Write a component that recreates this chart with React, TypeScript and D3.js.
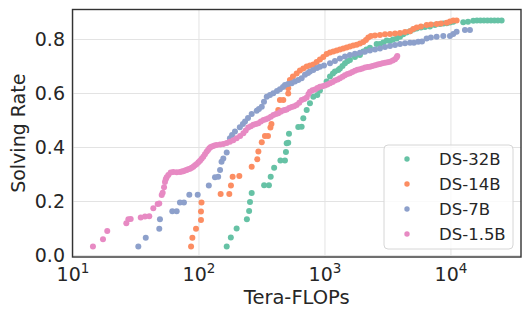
import * as d3 from 'd3';

// [Tera-FLOPs, solving rate]
const ds32b: [number, number][] = [
  [166, 0.033], [179, 0.067], [199, 0.100], [240, 0.134], [250, 0.165], [254, 0.198], [262, 0.231],
  [329, 0.260], [359, 0.260], [371, 0.292], [395, 0.325], [443, 0.352], [481, 0.352], [490, 0.383],
  [497, 0.416], [511, 0.418], [518, 0.451], [614, 0.476], [653, 0.477], [673, 0.508], [716, 0.539],
  [760, 0.564], [808, 0.588], [869, 0.594], [912, 0.611], [1031, 0.644], [1096, 0.663], [1157, 0.674],
  [1200, 0.681], [1276, 0.687], [1315, 0.693], [1377, 0.702], [1442, 0.712], [1510, 0.719], [1578, 0.724],
  [1730, 0.735], [1895, 0.743], [2015, 0.756], [2135, 0.763], [2275, 0.769], [2572, 0.783], [2733, 0.783],
  [2904, 0.789], [3088, 0.796], [3281, 0.794], [3467, 0.800], [3708, 0.804], [3940, 0.810], [4181, 0.819],
  [4446, 0.826], [4731, 0.831], [5023, 0.837], [5346, 0.841], [5780, 0.844], [6220, 0.846], [6810, 0.848],
  [7460, 0.854], [8180, 0.857], [8720, 0.859], [9250, 0.860], [9820, 0.863], [10430, 0.866], [12520, 0.864],
  [13650, 0.866], [15040, 0.869], [16070, 0.870], [17140, 0.870], [18280, 0.870], [19490, 0.870],
  [20770, 0.870], [22150, 0.870], [23610, 0.870], [25250, 0.870],
];

const ds14b: [number, number][] = [
  [86.5, 0.033], [88.6, 0.066], [94.7, 0.099], [103.7, 0.131], [103.7, 0.163], [104.7, 0.196],
  [148.6, 0.228], [174, 0.228], [179.4, 0.259], [185, 0.292], [209, 0.294], [262, 0.329], [290, 0.356],
  [296, 0.385], [315, 0.419], [334, 0.443], [353, 0.443], [369, 0.474], [376, 0.487], [426, 0.539],
  [439, 0.576], [467, 0.576], [511, 0.600], [511, 0.619], [527, 0.650], [557, 0.663], [596, 0.674],
  [633, 0.685], [673, 0.693], [716, 0.700], [760, 0.704], [808, 0.707], [859, 0.717], [912, 0.726],
  [970, 0.735], [1031, 0.746], [1096, 0.752], [1165, 0.756], [1238, 0.759], [1315, 0.763], [1397, 0.767],
  [1486, 0.770], [1578, 0.774], [1677, 0.778], [1785, 0.781], [1895, 0.785], [2015, 0.791], [2115, 0.798],
  [2207, 0.807], [2317, 0.813], [2494, 0.815], [2733, 0.817], [2995, 0.819], [3281, 0.820], [3597, 0.822],
  [3940, 0.824], [4318, 0.828], [4731, 0.831], [5023, 0.839], [5346, 0.844], [5780, 0.848], [6410, 0.854],
  [6930, 0.856], [7700, 0.857], [8340, 0.859], [9250, 0.862], [9820, 0.867], [10430, 0.870], [11090, 0.870],
];

const ds7b: [number, number][] = [
  [33.0, 0.033], [37.8, 0.066], [48.4, 0.099], [49.0, 0.134], [61.4, 0.164], [66.5, 0.164], [70.6, 0.196],
  [76.0, 0.196], [83.8, 0.225], [97.7, 0.225], [119.7, 0.259], [134, 0.290], [142, 0.292], [147, 0.317],
  [151, 0.347], [156, 0.359], [166, 0.381], [176, 0.434], [183, 0.446], [193, 0.459], [211, 0.475],
  [223, 0.487], [232, 0.496], [245, 0.509], [262, 0.524], [287, 0.536], [299, 0.543], [315, 0.551],
  [328, 0.569], [345, 0.588], [366, 0.594], [389, 0.601], [416, 0.609], [439, 0.616], [464, 0.624],
  [481, 0.631], [509, 0.635], [544, 0.638], [578, 0.644], [614, 0.650], [653, 0.656], [694, 0.669],
  [733, 0.676], [760, 0.681], [808, 0.687], [864, 0.694], [912, 0.699], [982, 0.704], [1096, 0.712],
  [1200, 0.720], [1315, 0.730], [1442, 0.737], [1578, 0.743], [1730, 0.747], [1895, 0.751], [2075, 0.755],
  [2275, 0.759], [2494, 0.763], [2733, 0.767], [2995, 0.772], [3281, 0.776], [3597, 0.780], [3940, 0.783],
  [4318, 0.786], [4731, 0.788], [5085, 0.788], [5500, 0.792], [5890, 0.793], [6410, 0.804], [6930, 0.807],
  [7700, 0.810], [8690, 0.813], [9820, 0.813], [10430, 0.820], [11090, 0.829], [12910, 0.835], [14150, 0.835],
];

const ds15b: [number, number][] = [
  [14.4, 0.033], [17.3, 0.060], [18.7, 0.091], [26.5, 0.119], [27.5, 0.134], [28.7, 0.135], [34.5, 0.141],
  [37.3, 0.144], [40.3, 0.145], [43.4, 0.175], [47.0, 0.191], [48.4, 0.193], [50.6, 0.224], [51.5, 0.232],
  [52.8, 0.253], [53.7, 0.272], [54.5, 0.282], [55.4, 0.290], [57.1, 0.298], [59.6, 0.307], [62.5, 0.309],
  [66.5, 0.308], [70.6, 0.309], [73, 0.311], [75.0, 0.312], [77.5, 0.315], [79.8, 0.317], [82, 0.319],
  [84.9, 0.321], [87.5, 0.325], [90.2, 0.329], [93, 0.334], [96.0, 0.339], [99, 0.345], [101.9, 0.351],
  [105, 0.358], [108.2, 0.366], [111.5, 0.375], [115, 0.384], [118, 0.391], [120.8, 0.397], [124, 0.402],
  [128, 0.405], [133, 0.407], [138, 0.409], [147, 0.411], [156, 0.413], [166, 0.417], [176, 0.421],
  [187, 0.427], [199, 0.434], [212, 0.443], [225, 0.453], [235, 0.463], [246, 0.474], [258, 0.479],
  [270, 0.484], [283, 0.487], [296, 0.490], [310, 0.496], [325, 0.502], [340, 0.505], [355, 0.508],
  [372, 0.514], [390, 0.520], [408, 0.524], [426, 0.527], [445, 0.532], [465, 0.537], [480, 0.539],
  [497, 0.541], [520, 0.546], [545, 0.550], [570, 0.553], [596, 0.557], [625, 0.566], [653, 0.576],
  [685, 0.580], [716, 0.585], [740, 0.598], [760, 0.606], [795, 0.612], [833, 0.615], [870, 0.620],
  [912, 0.625], [955, 0.627], [1000, 0.630], [1045, 0.633], [1096, 0.638], [1150, 0.643], [1200, 0.648],
  [1260, 0.652], [1315, 0.656], [1380, 0.662], [1440, 0.668], [1510, 0.672], [1578, 0.675], [1650, 0.680],
  [1730, 0.684], [1810, 0.688], [1895, 0.690], [1980, 0.693], [2080, 0.696], [2180, 0.698], [2275, 0.699],
  [2380, 0.702], [2500, 0.705], [2620, 0.707], [2733, 0.709], [2860, 0.712], [3000, 0.714], [3140, 0.716],
  [3281, 0.718], [3450, 0.722], [3597, 0.727], [3700, 0.733], [3750, 0.739],
];

const seriesNames = ['DS-32B', 'DS-14B', 'DS-7B', 'DS-1.5B'];
const seriesData = [ds32b, ds14b, ds7b, ds15b];
const colors = ['#66c2a5', '#fc8d62', '#8da0cb', '#e78ac3'];
const xTicks = [10, 100, 1000, 10000];
const yTicks = [0, 0.2, 0.4, 0.6, 0.8];

const W = 532;
const H = 319;
const left = 72.5;
const right = 521;
const top = 9.5;
const bottom = 257;
const font = 'DejaVu Sans, sans-serif';
const ink = '#262626';

export default function App() {
  const x = d3.scaleLog().domain([10, Math.pow(10, 4.556)]).range([73, right]);
  const y = d3.scaleLinear().domain([-0.0056, 0.9111]).range([bottom, top]);

  return (
    <svg width={W} height={H} style={{ position: 'absolute', left: 0, top: 0, background: '#fff' }}>
      <rect x={0} y={0} width={W} height={H} fill="#fff" />
      {/* grid */}
      {xTicks.map((t) => (
        <line key={'gx' + t} x1={x(t)} x2={x(t)} y1={top} y2={bottom} stroke="#e3e3e3" strokeWidth={1} />
      ))}
      {yTicks.map((t) => (
        <line key={'gy' + t} x1={left} x2={right} y1={y(t)} y2={y(t)} stroke="#e3e3e3" strokeWidth={1} />
      ))}

      {/* points */}
      {seriesData.map((data, i) => (
        <g key={seriesNames[i]} fill={colors[i]}>
          {data.map((d, j) => (
            <circle key={j} cx={x(d[0])} cy={y(d[1])} r={3} />
          ))}
        </g>
      ))}

      {/* frame */}
      <rect x={left} y={top} width={right - left} height={bottom - top} fill="none" stroke="#333" strokeWidth={1.4} />

      {/* y ticks */}
      {yTicks.map((t) => (
        <text key={'ty' + t} x={65} y={y(t)} dy="0.36em" textAnchor="end" fontFamily={font} fontSize={19} fill={ink}>
          {d3.format('.1f')(t)}
        </text>
      ))}
      {/* x ticks */}
      {xTicks.map((t) => (
        <text key={'tx' + t} x={x(t)} y={281} textAnchor="middle" fontFamily={font} fontSize={19} fill={ink}>
          <tspan>10</tspan>
          <tspan dy={-8} fontSize={13.5}>{Math.round(Math.log10(t))}</tspan>
        </text>
      ))}

      <text x={(left + right) / 2} y={304} textAnchor="middle" fontFamily={font} fontSize={19.5} fill={ink}>
        Tera-FLOPs
      </text>
      <text
        transform={`translate(25, ${(top + bottom) / 2}) rotate(-90)`}
        textAnchor="middle"
        fontFamily={font}
        fontSize={19}
        fill={ink}
      >
        Solving Rate
      </text>

      {/* legend */}
      <rect x={384} y={145} width={129} height={104} rx={4} fill="#fff" fillOpacity={0.8} stroke="#d6d6d6" strokeWidth={1} />
      {seriesNames.map((name, i) => (
        <g key={'lg' + name}>
          <circle cx={407} cy={159 + i * 25} r={2.7} fill={colors[i]} />
          <text x={439} y={159 + i * 25} dy="0.36em" fontFamily={font} fontSize={16.5} fill={ink}>
            {name}
          </text>
        </g>
      ))}
    </svg>
  );
}
